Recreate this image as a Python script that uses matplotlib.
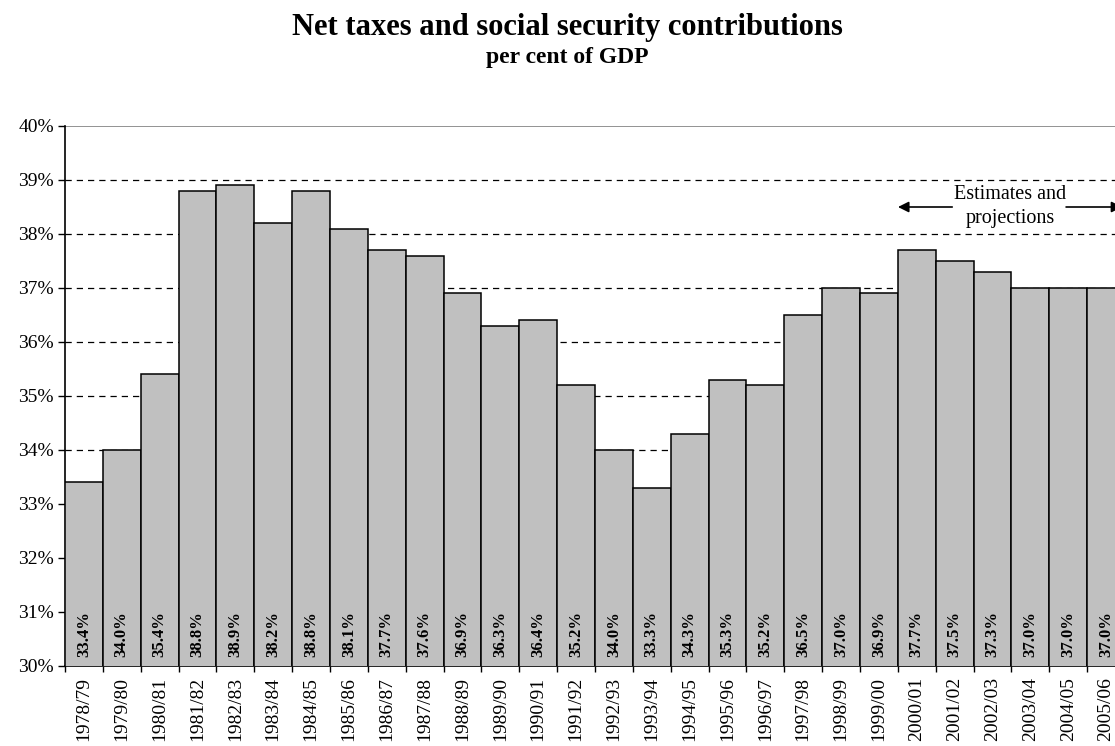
import matplotlib
matplotlib.use("Agg")
import matplotlib.pyplot as plt
import numpy as np

years = ["1978/79", "1979/80", "1980/81", "1981/82", "1982/83", "1983/84", "1984/85",
         "1985/86", "1986/87", "1987/88", "1988/89", "1989/90", "1990/91", "1991/92",
         "1992/93", "1993/94", "1994/95", "1995/96", "1996/97", "1997/98", "1998/99",
         "1999/00", "2000/01", "2001/02", "2002/03", "2003/04", "2004/05", "2005/06"]
values = [33.4, 34.0, 35.4, 38.8, 38.9, 38.2, 38.8, 38.1, 37.7, 37.6, 36.9, 36.3,
          36.4, 35.2, 34.0, 33.3, 34.3, 35.3, 35.2, 36.5, 37.0, 36.9, 37.7, 37.5,
          37.3, 37.0, 37.0, 37.0]
yticks = [30, 31, 32, 33, 34, 35, 36, 37, 38, 39, 40]

plt.rcParams['font.family'] = ['Liberation Serif', 'DejaVu Serif']

fig = plt.figure(figsize=(11.15, 7.46), dpi=100)
ax = fig.add_axes([65/1115, 1-666/746, 1060/1115, 540/746])

x = np.arange(len(years))
ax.bar(x, values, width=1.0, bottom=0, color='#C0C0C0', edgecolor='black',
       linewidth=1.1, zorder=3)

ax.set_ylim(30, 40)
ax.set_xlim(-0.5, len(years) - 0.5)
ax.set_yticks(yticks)
ax.set_yticklabels([f"{t}%" for t in yticks], fontsize=14)
for t in yticks[1:-1]:
    ax.axhline(t, color='black', linestyle=(0, (5, 4)), linewidth=0.9, zorder=1)
ax.axhline(40, color='#808080', linewidth=1.2, zorder=1)

ax.set_xticks(x)
ax.set_xticklabels(years, rotation=90, fontsize=14)
ax.set_xticks(np.arange(len(years) + 1) - 0.5, minor=True)
ax.tick_params(axis='x', which='major', length=0, pad=8)
ax.tick_params(axis='x', which='minor', length=4.5, width=1, direction='out')
ax.tick_params(axis='y', length=5, width=1, direction='out', pad=3)

for s in ['top', 'right']:
    ax.spines[s].set_visible(False)
ax.spines['left'].set_linewidth(1.2)
ax.spines['bottom'].set_linewidth(1.2)

for xi, v in zip(x, values):
    ax.text(xi, 30.17, f"{v:.1f}%", rotation=90, ha='center', va='bottom',
            fontsize=12, fontweight='bold', zorder=4)

# Annotation
ax.text(24.47, 38.51, "Estimates and\nprojections", ha='center', va='center',
        fontsize=14.5, linespacing=1.3, zorder=5)
ax.annotate("", xy=(21.43, 38.5), xytext=(23.01, 38.5),
            arrowprops=dict(arrowstyle='-|>', color='black', lw=1.2,
                            mutation_scale=16), zorder=5)
ax.annotate("", xy=(27.5, 38.5), xytext=(25.87, 38.5),
            arrowprops=dict(arrowstyle='-|>', color='black', lw=1.2,
                            mutation_scale=16), zorder=5, annotation_clip=False)

fig.text(567/1115, 1-35/746, "Net taxes and social security contributions", ha='center',
         va='baseline', fontsize=22, fontweight='bold')
fig.text(567/1115, 1-63/746, "per cent of GDP", ha='center', va='baseline',
         fontsize=17, fontweight='bold')

fig.savefig("out.png", dpi=100)
